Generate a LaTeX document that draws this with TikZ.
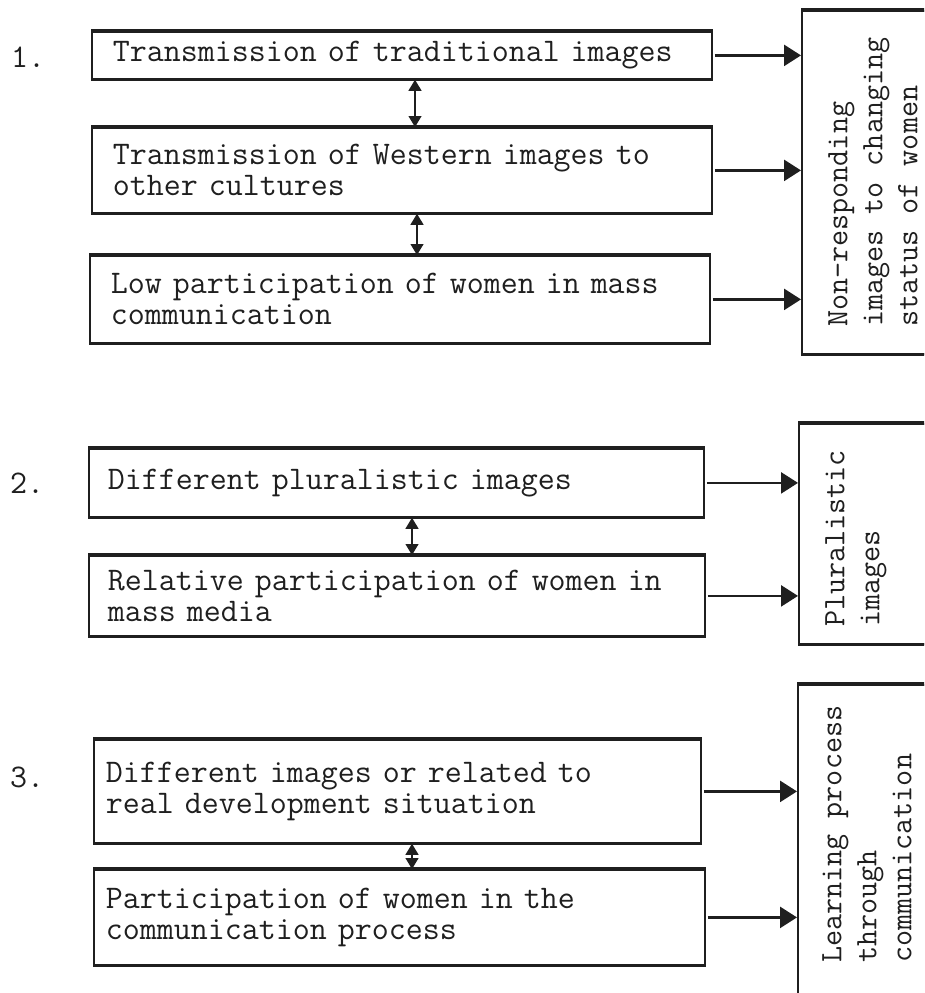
\documentclass[tikz,border=0pt]{standalone}
\usepackage{fontspec}
\usetikzlibrary{arrows.meta}
\newcommand\boxfont{\ttfamily\fontsize{33}{31}\selectfont\addfontfeature{FakeBold=1.2}}
\newcommand\sidefont{\ttfamily\fontsize{31.2}{35}\selectfont\addfontfeature{FakeBold=1.2}}
\begin{document}
\begin{tikzpicture}[x=1pt,y=-1pt,
  box/.style={draw=black!88, line width=1.8pt, inner ysep=0pt, inner xsep=21pt,
    align=left, font=\boxfont, text=black!88, anchor=north west},
  sidebox/.style={draw=black!88, line width=1.6pt, anchor=north west, minimum width=200pt},
  sidetext/.style={rotate=90, anchor=west, align=left, font=\sidefont, text=black!88, inner sep=0pt},
  lbl/.style={font=\boxfont, text=black!88},
  hl/.style={draw=black!88, line width=3.2pt},
  arr/.style={draw=black!88, line width=2.6pt, -{Triangle[length=17pt,width=21pt]}, shorten <=2pt},
  darr/.style={draw=black!88, line width=1.2pt, {Triangle[length=11pt,width=13pt]}-{Triangle[length=11pt,width=13pt]}}
]
\useasboundingbox (0,0) rectangle (924,993);
\fill[white] (0,0) rectangle (924,993);
\clip (0,0) rectangle (924,993);

% section labels
\node[lbl] (n1) at (28,57) {1.};
\node[lbl] (n2) at (27,483) {2.};
\node[lbl] (n3) at (27,777) {3.};

% section 1
\node[box, minimum width=620pt, minimum height=47pt, text width=578pt] (A) at (91,31) {Transmission of traditional images};
\node[box, minimum width=620pt, minimum height=85pt, text width=578pt] (B) at (91,127) {Transmission of Western images to\\other cultures};
\node[box, minimum width=620pt, minimum height=87pt, text width=578pt] (C) at (89,255) {Low participation of women in mass\\communication};
\node[sidebox, minimum height=343pt] (R1) at (801,10) {};
\node[sidetext] (T1) at (873,327) {Non-responding\\images to changing\\status of women};

% section 2
\node[box, inner xsep=19pt, minimum width=615pt, minimum height=68pt, text width=577pt] (D) at (88,448) {Different pluralistic images};
\node[box, inner xsep=19pt, minimum width=616pt, minimum height=80pt, text width=578pt] (E) at (88,555) {Relative participation of women in\\mass media};
\node[sidebox, minimum height=220pt] (R2) at (798,423) {};
\node[sidetext] (T2) at (856,627) {Pluralistic\\images};

% section 3
\node[box, inner xsep=12pt, minimum width=607pt, minimum height=103pt, text width=583pt] (F) at (93,739) {Different images or related to\\real development situation};
\node[box, inner xsep=12pt, minimum width=611pt, minimum height=95pt, text width=587pt] (G) at (93,869) {Participation of women in the\\communication process};
\node[sidebox, minimum height=400pt] (R3) at (797,684) {};
\node[sidetext] (T3) at (867,963) {Learning process\\through\\communication};

% heavier top and bottom rules
\foreach \n in {A,B,C,D,E,F,G,R1,R2,R3} {
  \draw[hl] (\n.north west) -- (\n.north east);
  \draw[hl] (\n.south west) -- (\n.south east);
}

% arrows to result boxes
\draw[arr] (A.east) -- (A.east -| R1.west);
\draw[arr] (B.east) -- (B.east -| R1.west);
\draw[arr] (C.east) -- (C.east -| R1.west);
\draw[arr] (D.east) -- (D.east -| R2.west);
\draw[arr] (E.east) -- (E.east -| R2.west);
\draw[arr] (F.east) -- (F.east -| R3.west);
\draw[arr] (G.east) -- (G.east -| R3.west);

% two-way links
\draw[darr] ([xshift=324pt]A.south west) -- ([xshift=324pt]A.south west |- B.north);
\draw[darr] ([xshift=326pt]B.south west) -- ([xshift=326pt]B.south west |- C.north);
\draw[darr] ([xshift=324pt]D.south west) -- ([xshift=324pt]D.south west |- E.north);
\draw[darr] ([xshift=319pt]F.south west) -- ([xshift=319pt]F.south west |- G.north);
\end{tikzpicture}
\end{document}
